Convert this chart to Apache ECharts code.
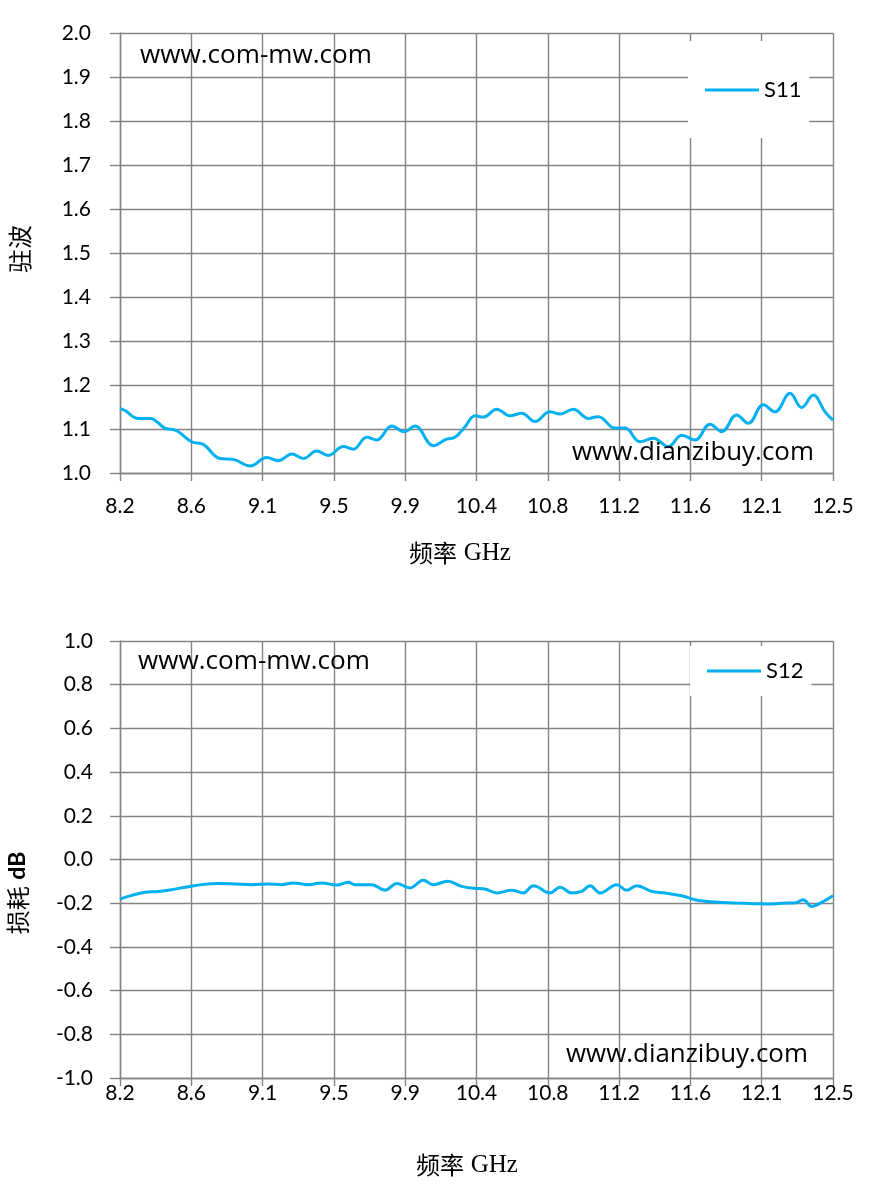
<!DOCTYPE html>
<html><head><meta charset="utf-8">
<script src="https://cdn.jsdelivr.net/npm/echarts@6/dist/echarts.min.js"></script>
<style>html,body{margin:0;padding:0;background:#fff}#c{width:869px;height:1192px}</style>
</head><body><div id="c"></div>
<script>
// ---- data ----
const tickLabels = ['8.2','8.6','9.1','9.5','9.9','10.4','10.8','11.2','11.6','12.1','12.5'];
const s11Freq = [8.200, 8.230, 8.310, 8.381, 8.471, 8.542, 8.632, 8.702, 8.803, 8.883,
                 8.984, 9.085, 9.155, 9.236, 9.306, 9.386, 9.456, 9.547, 9.607, 9.688,
                 9.748, 9.839, 9.915, 9.979, 10.090, 10.170, 10.220, 10.281, 10.341, 10.391,
                 10.472, 10.552, 10.623, 10.703, 10.793, 10.854, 10.934, 11.024, 11.085, 11.185,
                 11.246, 11.336, 11.416, 11.507, 11.588, 11.668, 11.758, 11.829, 11.919, 11.989,
                 12.080, 12.150, 12.241, 12.311, 12.381, 12.452, 12.500];
const s11Val  = [1.147, 1.142, 1.124, 1.124, 1.102, 1.096, 1.071, 1.065, 1.033, 1.031,
                 1.016, 1.035, 1.028, 1.043, 1.033, 1.050, 1.040, 1.060, 1.054, 1.081,
                 1.075, 1.107, 1.094, 1.107, 1.062, 1.077, 1.081, 1.105, 1.130, 1.127,
                 1.145, 1.130, 1.136, 1.117, 1.139, 1.134, 1.145, 1.124, 1.128, 1.102,
                 1.102, 1.071, 1.079, 1.060, 1.086, 1.075, 1.111, 1.094, 1.132, 1.113,
                 1.155, 1.139, 1.181, 1.149, 1.177, 1.139, 1.120];
const s12Freq = [8.200, 8.271, 8.351, 8.431, 8.512, 8.592, 8.693, 8.793, 8.894, 8.994,
                 9.094, 9.175, 9.245, 9.336, 9.416, 9.507, 9.577, 9.617, 9.718, 9.798,
                 9.869, 9.949, 10.029, 10.089, 10.176, 10.261, 10.341, 10.401, 10.472, 10.562,
                 10.632, 10.693, 10.793, 10.854, 10.924, 10.984, 11.035, 11.095, 11.196, 11.256,
                 11.316, 11.407, 11.487, 11.588, 11.668, 11.789, 11.909, 12.030, 12.110, 12.191,
                 12.271, 12.321, 12.372, 12.432, 12.500];
const s12Val  = [-0.181, -0.164, -0.150, -0.146, -0.138, -0.127, -0.115, -0.110, -0.112, -0.115,
                 -0.112, -0.115, -0.107, -0.115, -0.107, -0.117, -0.104, -0.115, -0.115, -0.141,
                 -0.110, -0.130, -0.095, -0.115, -0.100, -0.123, -0.132, -0.135, -0.153, -0.141,
                 -0.153, -0.120, -0.153, -0.127, -0.153, -0.146, -0.120, -0.153, -0.115, -0.141,
                 -0.120, -0.146, -0.153, -0.166, -0.184, -0.195, -0.199, -0.202, -0.204, -0.200,
                 -0.199, -0.184, -0.215, -0.196, -0.166];
const seriesNames = ['S11', 'S12'];
const yTitles = ['驻波', '损耗'];
const xTitle = '频率';
const watermarks = ['www.com-mw.com', 'www.dianzibuy.com'];

// ---- helpers ----
const measureCtx = document.createElement('canvas').getContext('2d');
function fitSize(text, family, target) {
  measureCtx.font = '100px ' + family;
  return 100 * target / measureCtx.measureText(text).width;
}
const gridColor = '#848484';
const lineColor = '#00B0F0';
const wmFont = '"Open Sans"';
const wm1Size = fitSize(watermarks[0], wmFont, 232);
const wm2Size = fitSize(watermarks[1], wmFont, 242);

function xAxis(gi, margin) {
  return {
    type: 'value', gridIndex: gi, min: 8.2, max: 12.5, interval: 0.43,
    axisLine: { show: true, onZero: false, lineStyle: { color: gridColor, width: 1.4 } },
    axisTick: { show: true, length: 8, lineStyle: { color: gridColor, width: 1.4 } },
    splitLine: { show: true, lineStyle: { color: gridColor, width: 1.4 } },
    axisLabel: { margin: margin, fontFamily: 'Lato', fontSize: 21, color: '#000',
      formatter: v => tickLabels[Math.round((v - 8.2) / 0.43)] }
  };
}
function yAxis(gi, min, max, interval, margin) {
  return {
    type: 'value', gridIndex: gi, min: min, max: max, interval: interval,
    axisLine: { show: true, onZero: false, lineStyle: { color: gridColor, width: 1.4 } },
    axisTick: { show: true, length: 10, lineStyle: { color: gridColor, width: 1.4 } },
    splitLine: { show: true, lineStyle: { color: gridColor, width: 1.4 } },
    axisLabel: { margin: margin, fontFamily: 'Lato', fontSize: 21, color: '#000',
      formatter: v => (Math.abs(v) < 1e-9 ? 0 : v).toFixed(1) }
  };
}
function legend(name, left, top, padding) {
  return {
    data: [{ name: name, icon: 'rect' }], left: left, top: top, orient: 'horizontal',
    padding: padding, backgroundColor: '#ffffff', borderWidth: 0,
    itemWidth: 54, itemHeight: 3,
    textStyle: { fontFamily: 'Lato', fontSize: 22, color: '#000' }
  };
}
function wm(text, x, y, size) {
  return { type: 'text', x: x, y: y, z: 10,
    style: { text: text, fontFamily: 'Open Sans', fontSize: size, fill: '#000',
      align: 'left', verticalAlign: 'middle' } };
}
const titleRich = {
  a: { fontFamily: '"Noto Sans CJK SC"', fontSize: 24, fill: '#000', color: '#000' },
  g: { fontFamily: '"Liberation Serif"', fontSize: 25, fill: '#000', color: '#000' },
  b: { fontFamily: 'Lato', fontWeight: 'bold', fontSize: 23, fill: '#000', color: '#000' }
};
function title(text, x, y, rot) {
  return { type: 'text', x: x, y: y, rotation: rot, z: 10,
    style: { text: text, rich: titleRich, align: 'center', verticalAlign: 'middle', fill: '#000' } };
}

const chart = echarts.init(document.getElementById('c'), null, { renderer: 'canvas' });
chart.setOption({
  animation: false,
  backgroundColor: '#ffffff',
  grid: [
    { left: 120, width: 713, top: 33, height: 440 },
    { left: 120, width: 713, top: 641, height: 437 }
  ],
  xAxis: [xAxis(0, 23), xAxis(1, 5)],
  yAxis: [yAxis(0, 1.0, 2.0, 0.1, 29), yAxis(1, -1.0, 1.0, 0.2, 27)],
  legend: [
    legend(seriesNames[0], 688, 41, [38, 8, 37, 17]),
    legend(seriesNames[1], 690, 646, [14, 8, 14, 17])
  ],
  series: [
    { type: 'line', name: seriesNames[0], xAxisIndex: 0, yAxisIndex: 0,
      data: s11Freq.map((f, i) => [f, s11Val[i]]), smooth: 0.4, symbol: 'none',
      lineStyle: { color: lineColor, width: 3 }, itemStyle: { color: lineColor } },
    { type: 'line', name: seriesNames[1], xAxisIndex: 1, yAxisIndex: 1,
      data: s12Freq.map((f, i) => [f, s12Val[i]]), smooth: 0.4, symbol: 'none',
      lineStyle: { color: lineColor, width: 3 }, itemStyle: { color: lineColor } }
  ],
  graphic: [
    wm(watermarks[0], 140, 56, wm1Size),
    wm(watermarks[1], 572, 453, wm2Size),
    wm(watermarks[0], 138, 662, wm1Size),
    wm(watermarks[1], 566, 1055, wm2Size),
    title('{a|' + yTitles[0] + '}', 20, 249, Math.PI / 2),
    title('{a|' + yTitles[1] + '}  {b|dB}', 18, 893, Math.PI / 2),
    title('{a|' + xTitle + '}  {g|GHz}', 460, 553, 0),
    title('{a|' + xTitle + '}  {g|GHz}', 467, 1165, 0)
  ]
});
</script>
</body></html>
